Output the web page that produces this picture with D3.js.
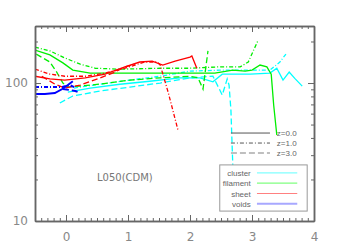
<!DOCTYPE html>
<html><head><meta charset="utf-8">
<script src="https://cdn.jsdelivr.net/npm/d3@7"></script>
<style>html,body{margin:0;padding:0;background:#fff;}svg{display:block;}</style>
</head><body>
<script>
// ---------- data ----------
const xDomain = [-0.5, 4];
const yDomain = [10, 259];
const xTicks = [0, 1, 2, 3, 4];
const xTickLabels = ["0", "1", "2", "3", "4"];
const yTicks = [10, 100];
const yTickLabels = ["10", "100"];
const types = ["cluster", "filament", "sheet", "voids"];
const redshifts = ["z=0.0", "z=1.0", "z=3.0"];
const label = "L050(CDM)";

const clusterZ0X = [0.03, 0.39, 0.87, 1.35, 1.84, 2.16, 2.37, 2.52, 2.97, 3.29, 3.40, 3.50, 3.60, 3.69, 3.81];
const clusterZ0Y = [86, 92, 98, 103, 109, 109, 102, 116, 116, 118, 128, 105, 120, 108, 95];
const clusterZ1X = [0.13, 0.55, 1.03, 1.52, 2.00, 2.48, 2.97, 3.29, 3.45, 3.56];
const clusterZ1Y = [92, 98, 105, 112, 122, 124, 124, 124, 142, 165];
const clusterZ3X = [-0.10, 0.11, 0.55, 1.03, 1.52, 2.00, 2.37, 2.52, 2.60, 2.63, 2.66, 2.69];
const clusterZ3Y = [71.6, 80.5, 87.5, 93.5, 100, 109, 112, 81.9, 107, 96.7, 63.7, 25.5];

const filamentZ0X = [-0.5, -0.26, -0.05, 0.11, 0.39, 0.87, 1.52, 2.00, 2.40, 2.69, 2.89, 3.00, 3.13, 3.24, 3.31, 3.35, 3.40];
const filamentZ0Y = [173, 160, 140, 124, 118, 118, 118, 118, 118, 124, 122, 124, 135, 131, 116, 69, 42];
const filamentZ1X = [-0.5, -0.26, -0.02, 0.23, 0.47, 0.87, 1.52, 2.00, 2.48, 2.81, 2.94, 3.10];
const filamentZ1Y = [182, 171, 152, 137, 128, 126, 128, 128, 131, 131, 142, 205];
const filamentZ3X = [-0.48, -0.26, -0.15, -0.05, 0.03, 0.23, 0.55, 1.03, 1.52, 2.00, 2.13, 2.21, 2.29];
const filamentZ3Y = [162, 142, 120, 100, 93.5, 95.1, 98.3, 105, 109, 112, 109, 90.5, 171];

const sheetZ0X = [-0.5, -0.26, -0.02, 0.31, 0.63, 0.95, 1.19, 1.39, 1.56, 1.76, 2.00, 2.03, 2.11];
const sheetZ0Y = [112, 107, 105, 109, 116, 131, 142, 144, 135, 144, 154, 157, 128];
const sheetZ1X = [-0.5, -0.26, -0.02, 0.31, 0.63, 0.95, 1.27, 1.47, 1.52, 1.65, 1.81];
const sheetZ1Y = [126, 116, 112, 112, 118, 128, 142, 142, 135, 85, 44.9];
const sheetZ3X = [-0.39, -0.18, -0.02, 0.23, 0.55, 0.79, 0.95, 1.11];
const sheetZ3Y = [112, 98.3, 92, 96.7, 109, 120, 131, 137];

const voidsZ0X = [-0.5, -0.34, -0.18, -0.06, 0.03, 0.11];
const voidsZ0Y = [83.2, 83.2, 84.6, 90.5, 96.7, 103];
const voidsZ1X = [-0.5, -0.26, -0.06, 0.06, 0.16];
const voidsZ1Y = [93.5, 93.5, 93.5, 96.7, 92];
const voidsZ3X = [-0.05, 0.06, 0.15, 0.19];
const voidsZ3Y = [90.5, 89, 87.5, 86.1];

// ---------- styles ----------
const W = 349, H = 249;
const m = {left: 35, right: 35, top: 26, bottom: 28};
const colors = {cluster: "#00ffff", filament: "#00ee00", sheet: "#ff0000", voids: "#0000ff"};
const legendColors = {cluster: "#80ffff", filament: "#80ff80", sheet: "#ff8080", voids: "#a8a8ff"};
const dashes = ["none", "4,2,1,2", "6,3"];
const axisColor = "#666", textColor = "#888";
const legendFont = "'Liberation Sans', Arial, sans-serif";

const series = [
  {t: "cluster", z: 0, x: clusterZ0X, y: clusterZ0Y},
  {t: "cluster", z: 1, x: clusterZ1X, y: clusterZ1Y},
  {t: "cluster", z: 2, x: clusterZ3X, y: clusterZ3Y},
  {t: "filament", z: 0, x: filamentZ0X, y: filamentZ0Y},
  {t: "filament", z: 1, x: filamentZ1X, y: filamentZ1Y},
  {t: "filament", z: 2, x: filamentZ3X, y: filamentZ3Y},
  {t: "sheet", z: 0, x: sheetZ0X, y: sheetZ0Y},
  {t: "sheet", z: 1, x: sheetZ1X, y: sheetZ1Y},
  {t: "sheet", z: 2, x: sheetZ3X, y: sheetZ3Y},
  {t: "voids", z: 0, x: voidsZ0X, y: voidsZ0Y},
  {t: "voids", z: 1, x: voidsZ1X, y: voidsZ1Y},
  {t: "voids", z: 2, x: voidsZ3X, y: voidsZ3Y}
];

const svg = d3.select("body").append("svg").attr("width", W).attr("height", H)
  .style("font-family", "'DejaVu Sans', sans-serif");

const x = d3.scaleLinear().domain(xDomain).range([m.left, W - m.right]);
const y = d3.scaleLog().domain(yDomain).range([H - m.bottom, m.top]);

svg.append("defs").append("clipPath").attr("id", "clip").append("rect")
  .attr("x", m.left).attr("y", m.top).attr("width", W - m.left - m.right).attr("height", H - m.top - m.bottom);

// data lines
const line = d3.line().x(d => x(d[0])).y(d => y(d[1]));
const g = svg.append("g").attr("clip-path", "url(#clip)");
series.forEach(s => {
  g.append("path").datum(s.x.map((v, i) => [v, s.y[i]]))
    .attr("d", line).attr("fill", "none")
    .attr("stroke", colors[s.t])
    .attr("stroke-width", s.t === "voids" ? 2 : 1.3)
    .attr("stroke-dasharray", dashes[s.z]);
});

// axes (IDL-style inward ticks on all sides)
const xMinor = d3.range(-5, 41).map(i => i / 10).filter(v => !xTicks.includes(v));
const yMinor = [20, 30, 40, 50, 60, 70, 80, 90, 200];
const axG = svg.append("g");
const bottomAx = axG.append("g").attr("transform", `translate(0,${H - m.bottom})`)
  .call(d3.axisBottom(x).tickValues(xTicks).tickFormat((d, i) => xTickLabels[i]).tickSizeInner(-6).tickSizeOuter(0).tickPadding(11));
bottomAx.append("g").call(d3.axisBottom(x).tickValues(xMinor).tickFormat("").tickSizeInner(-3).tickSizeOuter(0));
const topAx = axG.append("g").attr("transform", `translate(0,${m.top})`)
  .call(d3.axisTop(x).tickValues(xTicks).tickFormat("").tickSizeInner(-6).tickSizeOuter(0));
topAx.append("g").call(d3.axisTop(x).tickValues(xMinor).tickFormat("").tickSizeInner(-3).tickSizeOuter(0));
const leftAx = axG.append("g").attr("transform", `translate(${m.left},0)`)
  .call(d3.axisLeft(y).tickValues(yTicks).tickFormat((d, i) => yTickLabels[i]).tickSizeInner(-6).tickSizeOuter(0).tickPadding(7));
leftAx.append("g").call(d3.axisLeft(y).tickValues(yMinor).tickFormat("").tickSizeInner(-3).tickSizeOuter(0));
const rightAx = axG.append("g").attr("transform", `translate(${W - m.right},0)`)
  .call(d3.axisRight(y).tickValues(yTicks).tickFormat("").tickSizeInner(-6).tickSizeOuter(0));
rightAx.append("g").call(d3.axisRight(y).tickValues(yMinor).tickFormat("").tickSizeInner(-3).tickSizeOuter(0));
axG.selectAll(".domain").attr("stroke", axisColor).attr("stroke-width", 1.5);
axG.selectAll(".tick line").attr("stroke", axisColor);
axG.selectAll(".tick text").attr("fill", textColor).style("font-size", "12px").style("font-family", "'DejaVu Sans', sans-serif");

// annotation
svg.append("text").attr("x", x(0.5)).attr("y", y(19.5)).attr("fill", "#777")
  .style("font-size", "10px").text(label);

// redshift legend
redshifts.forEach((r, i) => {
  const yy = y(43.4) + i * 10;
  svg.append("line").attr("x1", x(2.66)).attr("x2", x(3.29)).attr("y1", yy).attr("y2", yy)
    .attr("stroke", i === 2 ? "#aaa" : "#555").attr("stroke-width", i === 2 ? 1.5 : 1)
    .attr("stroke-dasharray", dashes[i]);
  svg.append("text").attr("x", x(3.40)).attr("y", yy + 3).attr("fill", "#666")
    .style("font-size", "8px").style("font-family", legendFont).text(r);
});

// type legend
const lx0 = x(2.48), lx1 = x(3.89), ly0 = y(25.5), ly1 = y(11.8);
svg.append("rect").attr("x", lx0).attr("y", ly0).attr("width", lx1 - lx0).attr("height", ly1 - ly0)
  .attr("fill", "#fff").attr("stroke", "#999").attr("stroke-width", 1);
types.forEach((t, i) => {
  const yy = ly0 + 8 + i * 10.3;
  svg.append("text").attr("x", x(2.98)).attr("y", yy + 3).attr("text-anchor", "end")
    .attr("fill", "#666").style("font-size", "8px").style("font-family", legendFont).text(t);
  svg.append("line").attr("x1", x(3.08)).attr("x2", x(3.73)).attr("y1", yy).attr("y2", yy)
    .attr("stroke", legendColors[t]).attr("stroke-width", t === "voids" ? 2 : 1.2);
});
</script>
</body></html>
